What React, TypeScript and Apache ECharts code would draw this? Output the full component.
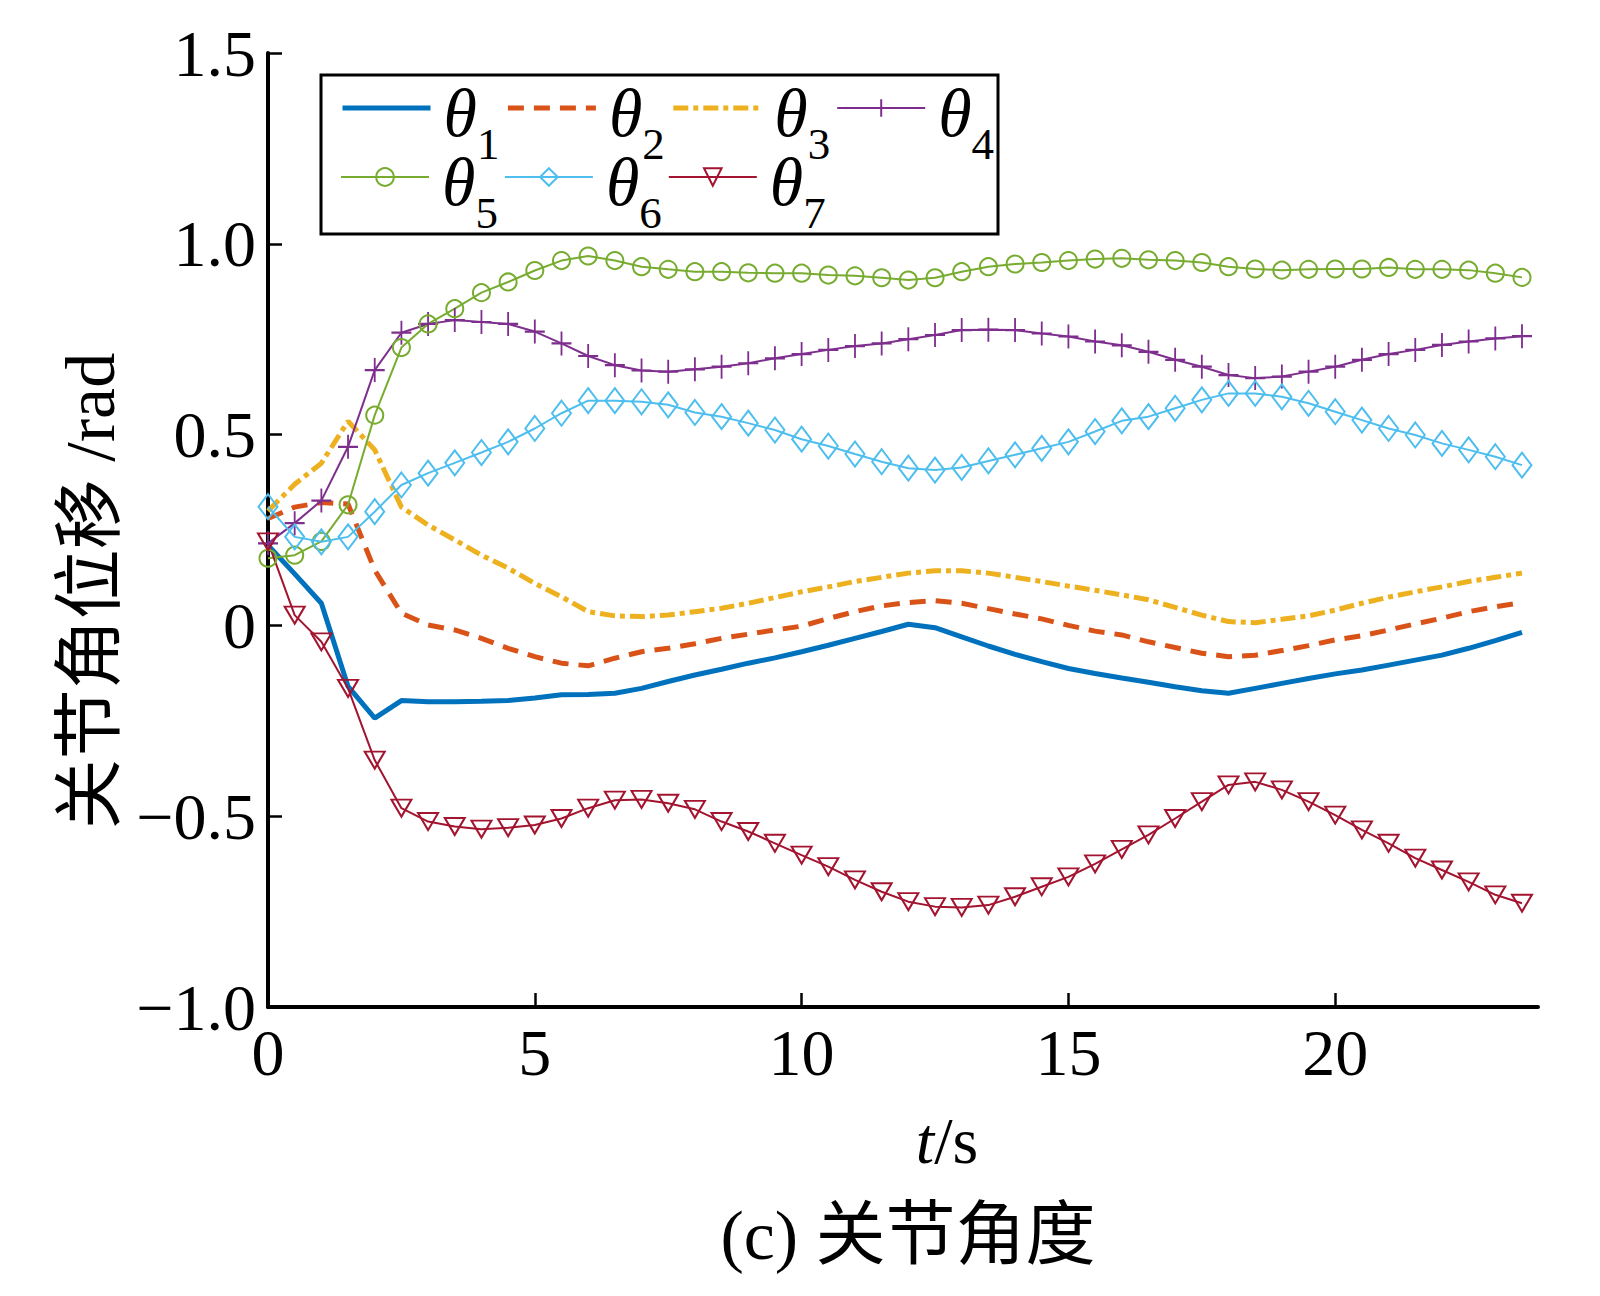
import React, { useEffect, useRef } from "react";
import * as echarts from "echarts";

const timeS = [
  0, 0.5, 1, 1.5, 2, 2.5, 3, 3.5, 4, 4.5, 5, 5.5, 6, 6.5, 7, 7.5, 8, 8.5, 9, 9.5,
  10, 10.5, 11, 11.5, 12, 12.5, 13, 13.5, 14, 14.5, 15, 15.5, 16, 16.5, 17, 17.5,
  18, 18.5, 19, 19.5, 20, 20.5, 21, 21.5, 22, 22.5, 23, 23.5,
];

const theta1 = [
  0.21, 0.135, 0.058, -0.16, -0.243, -0.197, -0.2, -0.2, -0.199, -0.197, -0.19, -0.182,
  -0.181, -0.178, -0.165, -0.147, -0.13, -0.115, -0.099, -0.085, -0.069, -0.052, -0.034,
  -0.016, 0.003, -0.006, -0.03, -0.054, -0.076, -0.095, -0.113, -0.126, -0.138, -0.149,
  -0.161, -0.171, -0.178, -0.165, -0.152, -0.139, -0.127, -0.117, -0.104, -0.091, -0.078,
  -0.06, -0.04, -0.018,
];
const theta2 = [
  0.28, 0.31, 0.322, 0.318, 0.145, 0.032, 0.001, -0.012, -0.034, -0.06, -0.082, -0.099,
  -0.106, -0.086, -0.069, -0.06, -0.048, -0.034, -0.023, -0.012, -0.002, 0.018, 0.036,
  0.051, 0.06, 0.065, 0.058, 0.044, 0.03, 0.017, 0.0, -0.015, -0.025, -0.043, -0.058,
  -0.073, -0.082, -0.078, -0.066, -0.053, -0.038, -0.027, -0.012, 0.004, 0.019, 0.036,
  0.049, 0.06,
];
const theta3 = [
  0.3, 0.37, 0.425, 0.535, 0.46, 0.31, 0.263, 0.224, 0.184, 0.15, 0.11, 0.075, 0.036,
  0.025, 0.023, 0.027, 0.036, 0.045, 0.058, 0.073, 0.088, 0.101, 0.115, 0.126, 0.137,
  0.143, 0.143, 0.137, 0.126, 0.115, 0.103, 0.092, 0.08, 0.067, 0.047, 0.027, 0.01,
  0.007, 0.016, 0.025, 0.04, 0.058, 0.074, 0.088, 0.101, 0.115, 0.126, 0.137,
];
const theta4 = [
  0.215, 0.268, 0.327, 0.468, 0.669, 0.767, 0.79, 0.8, 0.795, 0.79, 0.77, 0.739, 0.706,
  0.682, 0.668, 0.665, 0.671, 0.678, 0.687, 0.7, 0.711, 0.722, 0.732, 0.739, 0.75, 0.761,
  0.774, 0.775, 0.774, 0.765, 0.757, 0.744, 0.734, 0.717, 0.696, 0.678, 0.656, 0.648,
  0.652, 0.665, 0.678, 0.696, 0.711, 0.722, 0.735, 0.744, 0.752, 0.758,
];
const theta5 = [
  0.176, 0.184, 0.22, 0.316, 0.551, 0.728, 0.79, 0.83, 0.872, 0.9, 0.93, 0.956, 0.968,
  0.956, 0.94, 0.933, 0.927, 0.927, 0.924, 0.923, 0.923, 0.918, 0.916, 0.911, 0.905,
  0.911, 0.927, 0.94, 0.947, 0.951, 0.956, 0.96, 0.962, 0.958, 0.956, 0.951, 0.94, 0.934,
  0.931, 0.933, 0.934, 0.934, 0.938, 0.933, 0.933, 0.931, 0.923, 0.912,
];
const theta6 = [
  0.311, 0.232, 0.219, 0.232, 0.298, 0.368, 0.399, 0.426, 0.453, 0.481, 0.516, 0.556,
  0.589, 0.589, 0.586, 0.578, 0.558, 0.547, 0.53, 0.512, 0.488, 0.47, 0.449, 0.429, 0.412,
  0.407, 0.414, 0.431, 0.447, 0.464, 0.481, 0.508, 0.536, 0.547, 0.569, 0.591, 0.608,
  0.608, 0.599, 0.582, 0.56, 0.538, 0.516, 0.499, 0.477, 0.46, 0.442, 0.42,
];
const theta7 = [
  0.219, 0.027, -0.043, -0.165, -0.353, -0.479, -0.514, -0.527, -0.534, -0.53, -0.523,
  -0.506, -0.479, -0.458, -0.456, -0.466, -0.482, -0.514, -0.54, -0.571, -0.602, -0.632,
  -0.667, -0.698, -0.724, -0.737, -0.739, -0.733, -0.711, -0.685, -0.659, -0.625, -0.587,
  -0.549, -0.506, -0.462, -0.418, -0.41, -0.431, -0.462, -0.497, -0.536, -0.571, -0.61,
  -0.641, -0.672, -0.706, -0.728,
];

const seriesNames = ["θ1", "θ2", "θ3", "θ4", "θ5", "θ6", "θ7"];
const xTicks = [0, 5, 10, 15, 20];
const yTicks = [-1.0, -0.5, 0, 0.5, 1.0, 1.5];

const SERIF = '"Liberation Serif", "Times New Roman", "Noto Sans CJK SC", serif';

const COLORS = ["#0072BD", "#D95319", "#EDB120", "#7E2F8E", "#77AC30", "#4DBEEE", "#A2142F"];

function pairs(vals: number[]) {
  return timeS.map((t, i) => [t, vals[i]]);
}

export default function App() {
  const ref = useRef<HTMLDivElement>(null);

  useEffect(() => {
    document.body.style.margin = "0";
    if (!ref.current) return;
    const chart = echarts.init(ref.current, undefined, { renderer: "svg" });

    const allData = [theta1, theta2, theta3, theta4, theta5, theta6, theta7];

    const markerSpecs: any[] = [
      { symbol: "none" },
      { symbol: "none" },
      { symbol: "none" },
      { symbol: "path://M10,0L10,24M0,12L20,12", symbolSize: [20, 24] },
      { symbol: "circle", symbolSize: 17 },
      { symbol: "diamond", symbolSize: [19, 25] },
      { symbol: "triangle", symbolSize: [20, 17], symbolRotate: 180 },
    ];
    const lineTypes: any[] = ["solid", [16, 10], [15, 5, 5, 5], "solid", "solid", "solid", "solid"];
    const lineWidths = [5, 5, 5, 2, 2, 2, 2];

    const series = allData.map((vals, i) => ({
      name: seriesNames[i],
      type: "line",
      data: pairs(vals),
      smooth: false,
      symbol: markerSpecs[i].symbol,
      symbolSize: markerSpecs[i].symbolSize,
      symbolRotate: markerSpecs[i].symbolRotate || 0,
      showAllSymbol: true,
      symbolKeepAspect: false,
      lineStyle: { color: COLORS[i], width: lineWidths[i], type: lineTypes[i] },
      itemStyle: { color: "transparent", borderColor: COLORS[i], borderWidth: 2 },
      emphasis: { disabled: true },
      z: 2,
    }));

    const legendRich = {
      t: {
        fontFamily: SERIF,
        fontStyle: "italic",
        fontSize: 68,
        lineHeight: 68,
        verticalAlign: "top",
        padding: [5, 0, 0, 8],
        color: "#000",
      },
      s: {
        fontFamily: SERIF,
        fontSize: 45,
        lineHeight: 45,
        verticalAlign: "top",
        padding: [47, 0, 0, 0],
        color: "#000",
      },
    };

    const legendItems = (names: string[]) =>
      names.map((n) => {
        const i = seriesNames.indexOf(n);
        const item: any = {
          name: n,
          lineStyle: { color: COLORS[i], width: lineWidths[i], type: lineTypes[i] },
        };
        if (markerSpecs[i].symbol === "none") {
          item.itemStyle = { color: "transparent", borderColor: "transparent", borderWidth: 0 };
        }
        return item;
      });

    const legendBase = {
      orient: "horizontal",
      padding: 0,
      itemWidth: 88,
      itemHeight: 22,
      itemGap: 6,
      selectedMode: false,
      formatter: (name: string) => `{t|θ}{s|${name.slice(1)}}`,
      textStyle: { rich: legendRich, color: "#000" },
    };

    const fmtY = (v: number) => {
      if (Math.abs(v) < 1e-9) return "0";
      return v.toFixed(1).replace("-", "−");
    };

    chart.setOption({
      animation: false,
      backgroundColor: "#fff",
      grid: { left: 268, right: 62, top: 53, bottom: 289, containLabel: false },
      legend: [
        { ...legendBase, data: legendItems(seriesNames.slice(0, 4)), left: 340, top: 74 },
        { ...legendBase, data: legendItems(seriesNames.slice(4)), left: 340, top: 143 },
      ],
      xAxis: {
        type: "value",
        min: 0,
        max: 23.8,
        interval: 5,
        name: "{i|t}{n|/s}",
        nameLocation: "middle",
        nameGap: 100,
        nameTextStyle: {
          padding: [0, 0, 0, 88],
          rich: {
            i: { fontFamily: SERIF, fontStyle: "italic", fontSize: 66, color: "#000" },
            n: { fontFamily: SERIF, fontSize: 66, color: "#000" },
          },
        },
        axisLine: { show: true, onZero: false, lineStyle: { color: "#000", width: 4 } },
        axisTick: {
          show: true,
          inside: true,
          length: 14,
          lineStyle: { color: "#000", width: 2.5 },
          customValues: xTicks,
        },
        axisLabel: {
          show: true,
          margin: 12,
          fontFamily: SERIF,
          fontSize: 66,
          color: "#000",
          customValues: xTicks,
        },
        splitLine: { show: false },
      },
      yAxis: {
        type: "value",
        min: -1,
        max: 1.5,
        interval: 0.5,
        name: "关节角位移 /rad",
        nameLocation: "middle",
        nameGap: 142,
        nameRotate: 90,
        nameTextStyle: {
          fontFamily: SERIF,
          fontSize: 70,
          color: "#000",
          padding: [0, 122, 0, 0],
        },
        axisLine: { show: true, onZero: false, lineStyle: { color: "#000", width: 4 } },
        axisTick: {
          show: true,
          inside: true,
          length: 14,
          lineStyle: { color: "#000", width: 2.5 },
          customValues: yTicks,
        },
        axisLabel: {
          show: true,
          margin: 12,
          fontFamily: SERIF,
          fontSize: 66,
          color: "#000",
          formatter: fmtY,
          customValues: yTicks,
        },
        splitLine: { show: false },
      },
      graphic: [
        {
          type: "rect",
          shape: { x: 321, y: 75, width: 677, height: 159 },
          style: { fill: "none", stroke: "#000", lineWidth: 3 },
          z: 10,
          silent: true,
        },
        {
          type: "text",
          x: 908,
          y: 1235,
          style: {
            text: "(c) 关节角度",
            fontFamily: SERIF,
            fontSize: 70,
            fill: "#000",
            align: "center",
            verticalAlign: "middle",
          },
        },
      ],
      series,
    });

    return () => chart.dispose();
  }, []);

  return <div ref={ref} style={{ width: 1600, height: 1296 }} />;
}
